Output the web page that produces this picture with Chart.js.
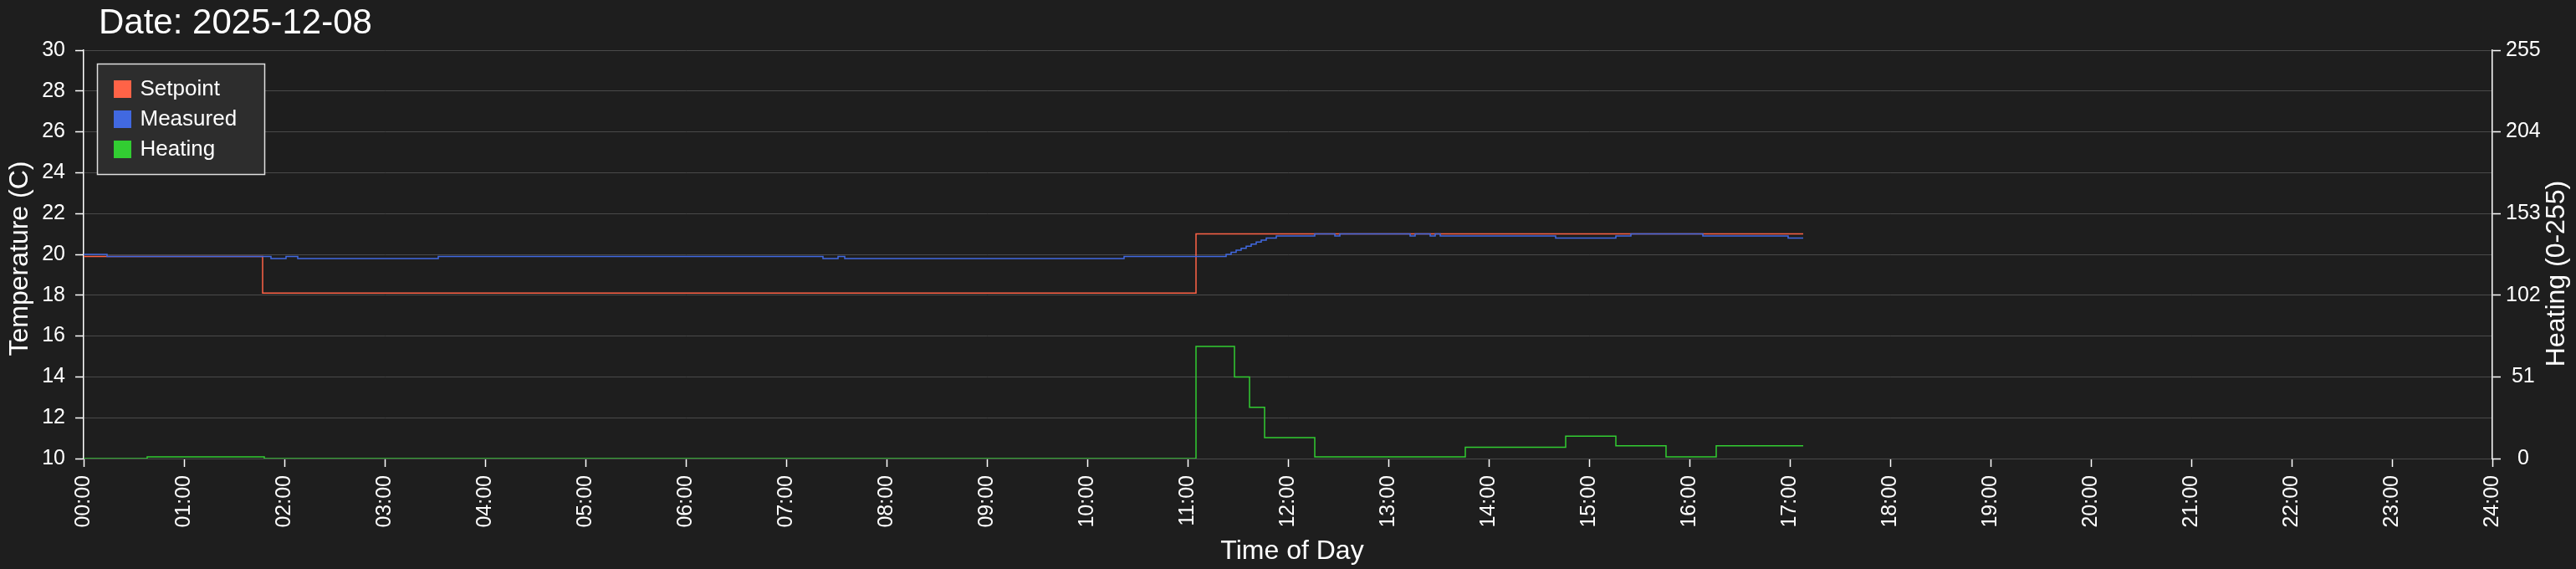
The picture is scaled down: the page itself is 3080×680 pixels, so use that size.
<!DOCTYPE html>
<html>
<head>
<meta charset="utf-8">
<title>Temperature log</title>
<script src="https://cdn.jsdelivr.net/npm/chart.js@4.4.1/dist/chart.umd.min.js"></script>
<style>
  html, body { margin: 0; padding: 0; background: #1e1e1e; }
  canvas { display: block; }
</style>
</head>
<body>
<canvas id="tempChart" width="3080" height="680"></canvas>
<script>
const chartDate = '2025-12-08';
const seriesNames = ['Setpoint', 'Measured', 'Heating'];
const seriesColors = ['#ff6347', '#4169e1', '#32cd32'];

// Setpoint (C)
const setpointTimes = ['00:00', '01:47', '11:05', '17:08'];
const setpointValues = [19.9, 18.1, 21.0, 21.0];

// Measured (C)
const measuredTimes = ['00:00', '00:14', '01:52', '02:01', '02:08', '03:32', '07:22', '07:31', '07:35',
  '10:22', '11:23', '11:26', '11:29', '11:32', '11:35', '11:38', '11:41', '11:44', '11:47', '11:53',
  '12:16', '12:28', '12:31', '13:13', '13:16', '13:25', '13:28', '13:31', '14:40', '15:16', '15:25',
  '16:08', '16:59', '17:08'];
const measuredValues = [20.0, 19.9, 19.8, 19.9, 19.8, 19.9, 19.8, 19.9, 19.8,
  19.9, 20.0, 20.1, 20.2, 20.3, 20.4, 20.5, 20.6, 20.7, 20.8, 20.9,
  21.0, 20.9, 21.0, 20.9, 21.0, 20.9, 21.0, 20.9, 20.8, 20.9, 21.0,
  20.9, 20.8, 20.8];

// Heating (0-255)
const heatingTimes = ['00:00', '00:38', '01:48', '11:05', '11:28', '11:37', '11:46', '12:16', '13:46',
  '14:46', '15:16', '15:46', '16:16', '17:08'];
const heatingValues = [0, 1, 0, 70, 51, 32, 13, 1, 7, 14, 8, 1, 8, 8];

const tempTicks = [10, 12, 14, 16, 18, 20, 22, 24, 26, 28, 30];
const heatTicks = [0, 51, 102, 153, 204, 255];
const hourLabels = ['00:00', '01:00', '02:00', '03:00', '04:00', '05:00', '06:00', '07:00', '08:00',
  '09:00', '10:00', '11:00', '12:00', '13:00', '14:00', '15:00', '16:00', '17:00', '18:00', '19:00',
  '20:00', '21:00', '22:00', '23:00', '24:00'];

const fontFamily = '"Liberation Sans", Arial, sans-serif';
const textColor = '#ffffff';
const gridColor = '#4a4a4a';

function toMinutes(t) {
  const parts = t.split(':');
  return parseInt(parts[0], 10) * 60 + parseInt(parts[1], 10);
}

function toPoints(times, values) {
  return times.map((t, i) => ({ x: toMinutes(t), y: values[i] }));
}

function drawVertical(ctx, text, x, y) {
  ctx.save();
  ctx.translate(x, y);
  ctx.rotate(-Math.PI / 2);
  ctx.textAlign = 'center';
  ctx.textBaseline = 'alphabetic';
  ctx.fillText(text, 0, 0);
  ctx.restore();
}

// title, axis titles and the boxed legend
const overlayPlugin = {
  id: 'overlay',
  afterDraw(chart) {
    const ctx = chart.ctx;
    const area = chart.chartArea;
    ctx.save();
    ctx.fillStyle = textColor;
    ctx.textBaseline = 'alphabetic';
    ctx.textAlign = 'left';
    ctx.font = '42px ' + fontFamily;
    ctx.fillText('Date: ' + chartDate, 118, 40);

    ctx.font = '32px ' + fontFamily;
    ctx.textAlign = 'center';
    ctx.fillText('Time of Day', (area.left + area.right) / 2 + 5, 668);
    drawVertical(ctx, 'Temperature (C)', 33, 309);
    drawVertical(ctx, 'Heating (0-255)', 3066, 327);

    // legend box
    ctx.fillStyle = '#2d2d2d';
    ctx.fillRect(116, 76, 200, 132);
    ctx.strokeStyle = '#e0e0e0';
    ctx.lineWidth = 1.5;
    ctx.strokeRect(116.5, 76.5, 200, 132);
    ctx.font = '26px ' + fontFamily;
    ctx.textAlign = 'left';
    ctx.textBaseline = 'middle';
    seriesNames.forEach((name, i) => {
      const top = 96 + i * 36;
      ctx.fillStyle = seriesColors[i];
      ctx.fillRect(136, top, 21, 21);
      ctx.fillStyle = textColor;
      ctx.fillText(name, 167.5, top + 11);
    });
    ctx.restore();
  }
};

const canvas = document.getElementById('tempChart');
new Chart(canvas, {
  type: 'line',
  data: {
    datasets: [
      {
        label: seriesNames[0],
        data: toPoints(setpointTimes, setpointValues),
        borderColor: seriesColors[0],
        backgroundColor: seriesColors[0],
        yAxisID: 'y',
        stepped: true,
        order: 1
      },
      {
        label: seriesNames[1],
        data: toPoints(measuredTimes, measuredValues),
        borderColor: seriesColors[1],
        backgroundColor: seriesColors[1],
        yAxisID: 'y',
        stepped: true,
        order: 0
      },
      {
        label: seriesNames[2],
        data: toPoints(heatingTimes, heatingValues),
        borderColor: seriesColors[2],
        backgroundColor: seriesColors[2],
        yAxisID: 'y1',
        stepped: true,
        order: 2
      }
    ]
  },
  options: {
    responsive: false,
    animation: false,
    elements: {
      point: { radius: 0 },
      line: { borderWidth: 1.5, tension: 0 }
    },
    layout: { padding: { top: 60, left: 0, right: 0, bottom: 0 } },
    plugins: {
      legend: { display: false },
      title: { display: false },
      tooltip: { enabled: false }
    },
    scales: {
      x: {
        type: 'linear',
        min: 0,
        max: 1440,
        afterFit: (scale) => { scale.height = 132; },
        afterBuildTicks: (scale) => { scale.ticks = hourLabels.map((_, i) => ({ value: i * 60 })); },
        ticks: {
          autoSkip: false,
          minRotation: 90,
          maxRotation: 90,
          padding: 10,
          color: textColor,
          font: { family: fontFamily, size: 25 },
          callback: (v) => hourLabels[Math.round(v / 60)]
        },
        grid: { drawOnChartArea: false, tickColor: '#ffffff', tickLength: 10, tickWidth: 1.5 },
        border: { display: false }
      },
      y: {
        position: 'left',
        min: 10,
        max: 30,
        afterFit: (scale) => { scale.width = 100; },
        afterBuildTicks: (scale) => { scale.ticks = tempTicks.map(v => ({ value: v })); },
        ticks: {
          padding: 12,
          color: textColor,
          font: { family: fontFamily, size: 25 }
        },
        grid: { color: gridColor, lineWidth: 1, tickColor: '#ffffff', tickLength: 10, tickWidth: 1.5 },
        border: { color: '#ffffff', width: 1.5 }
      },
      y1: {
        position: 'right',
        min: 0,
        max: 255,
        afterFit: (scale) => { scale.width = 100; },
        afterBuildTicks: (scale) => { scale.ticks = heatTicks.map(v => ({ value: v })); },
        ticks: {
          padding: 6,
          crossAlign: 'center',
          color: textColor,
          font: { family: fontFamily, size: 25 }
        },
        grid: { drawOnChartArea: false, tickColor: '#ffffff', tickLength: 10, tickWidth: 1.5 },
        border: { color: '#ffffff', width: 1.5 }
      }
    }
  },
  plugins: [overlayPlugin]
});
</script>
</body>
</html>
